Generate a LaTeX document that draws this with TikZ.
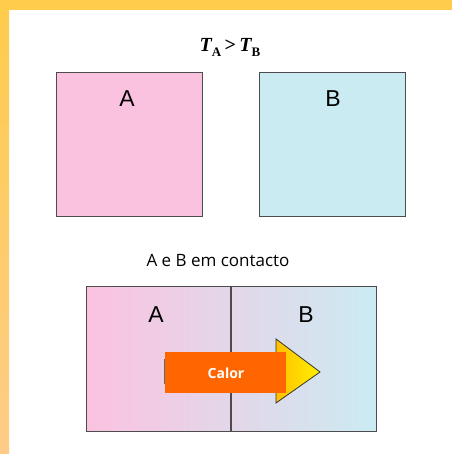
\documentclass[tikz,border=0pt]{standalone}
\usepackage{fontspec}
\setmainfont{Liberation Sans}
\newfontfamily\tnr{Liberation Serif}
\newfontfamily\comic{Open Sans}
\begin{document}
\begin{tikzpicture}[x=1pt,y=-1pt,
  boxline/.style={draw=black!70,line width=1.2pt},
  lbl/.style={font=\fontsize{23}{23}\selectfont,text=black},
]
\definecolor{bandY}{HTML}{FFCC4C}
\definecolor{bandO}{HTML}{FFCC88}
\definecolor{pinkA}{HTML}{FBC2E0}
\definecolor{blueB}{HTML}{CBEBF2}
\definecolor{calorC}{HTML}{FF6600}
\definecolor{arrY1}{HTML}{FFC000}
\definecolor{arrY2}{HTML}{FFF000}
\useasboundingbox (0,0) rectangle (452,454);
\fill[white] (0,0) rectangle (452,454);
% frame bands
\shade[top color=bandY,bottom color=bandO] (0,0) rectangle (9,454);
\fill[bandY] (0,0) rectangle (452,10);
% title
\node (title) at (230,47) {\tnr\fontsize{20}{20}\selectfont\bfseries\itshape T\raisebox{-5pt}{\fontsize{13}{13}\selectfont\upshape A}\,\upshape{>}\,\itshape T\raisebox{-5pt}{\fontsize{13}{13}\selectfont\upshape B}};
% separate boxes
\node[boxline,fill=pinkA,minimum width=146pt,minimum height=144pt,inner sep=0pt,anchor=north west] (boxA) at (56,72) {};
\node[boxline,fill=blueB,minimum width=146pt,minimum height=144pt,inner sep=0pt,anchor=north west] (boxB) at (259,72) {};
\node[lbl] (labA) at (127,99) {A};
\node[lbl] (labB) at (333,99) {B};
% caption
\node (cap) at (218,260) {\comic\fontsize{17}{17}\selectfont A e B em contacto};
% contact box
\shade[left color=pinkA,right color=blueB] (86,286) rectangle (376,431);
\node[boxline,minimum width=290pt,minimum height=145pt,inner sep=0pt,anchor=north west] (boxAB) at (86,286) {};
\coordinate (midT) at (231,286);
\coordinate (midB) at (231,431);
\draw[draw=black!70,line width=1.2pt] (midT) -- (midB);
\node[lbl] (labA2) at (156,315) {A};
\node[lbl] (labB2) at (306,315) {B};
% arrow
\shade[left color=arrY1,right color=arrY2,draw=black!80,line width=0.8pt] (276,339) -- (320,372) -- (276,403) -- cycle;
\draw[black!60,line width=1pt] (164.5,359) -- (164.5,384);
\node[fill=calorC,minimum width=121pt,minimum height=41pt,inner sep=0pt,anchor=north west] (calor) at (165,352) {};
\node[text=white,font=\comic\bfseries\fontsize{14}{14}\selectfont] (calort) at (226,373) {Calor};
\end{tikzpicture}
\end{document}
